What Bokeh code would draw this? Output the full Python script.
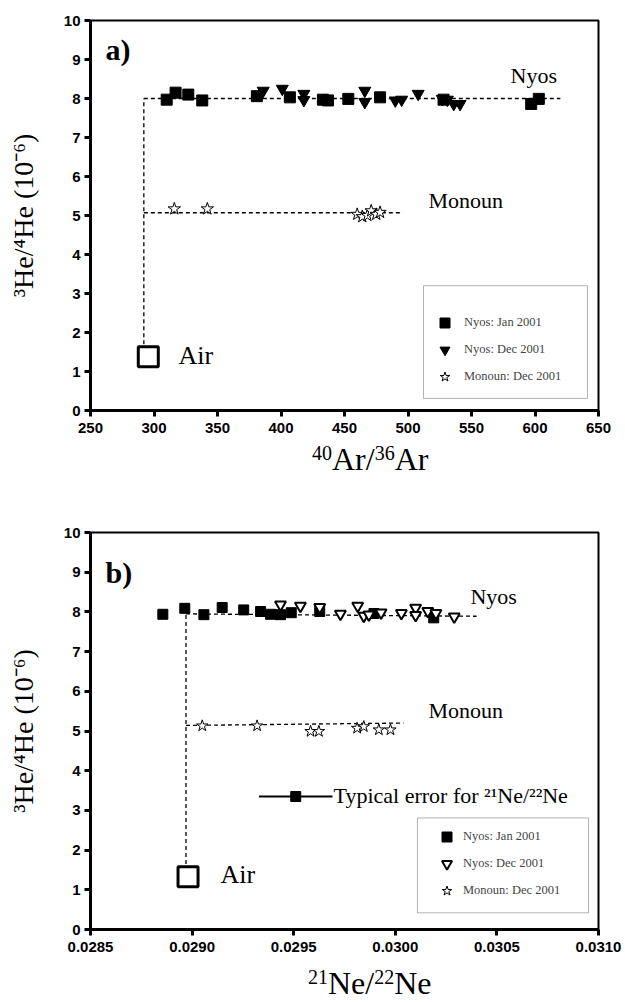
from bokeh.plotting import figure
from bokeh.layouts import column
from bokeh.models import (Range1d, FixedTicker, PrintfTickFormatter, Label,
                          Legend, LegendItem, BoxAnnotation, Div)
from bokeh.embed import file_html
from bokeh.resources import INLINE

# ---------------- panel a: 3He/4He vs 40Ar/36Ar ----------------
a_nyos_jan_x = [310, 317, 327, 338, 381, 407, 433, 437, 453, 478, 528, 597, 603]
a_nyos_jan_y = [7.97, 8.15, 8.10, 7.95, 8.06, 8.03, 7.97, 7.95, 7.99, 8.03, 7.97, 7.86, 7.99]

a_nyos_dec_x = [386, 401, 418, 418, 466, 466, 490, 495, 508, 527, 531, 536, 541]
a_nyos_dec_y = [8.20, 8.25, 8.12, 7.96, 8.20, 7.91, 7.95, 7.97, 8.12, 7.99, 7.97, 7.86, 7.86]

a_monoun_x = [316, 342, 460, 464, 468, 471, 475, 478]
a_monoun_y = [5.17, 5.17, 5.03, 4.97, 5.00, 5.12, 5.03, 5.08]

a_air = (295.5, 1.38)

a_nyos_trend_x = [292, 620]
a_nyos_trend_y = [8.0, 8.0]
a_monoun_trend_x = [292, 496]
a_monoun_trend_y = [5.07, 5.07]
a_air_link_x = [292, 292]
a_air_link_y = [1.70, 8.0]

# ---------------- panel b: 3He/4He vs 21Ne/22Ne ----------------
b_nyos_jan_x = [0.028856, 0.028964, 0.029058, 0.029148, 0.029254, 0.029337,
                0.029386, 0.029435, 0.029488, 0.029628, 0.029895, 0.030189]
b_nyos_jan_y = [7.94, 8.09, 7.93, 8.11, 8.05, 8.01, 7.94, 7.93, 7.98, 8.01, 7.96, 7.85]

b_nyos_dec_x = [0.029435, 0.029533, 0.029628, 0.029730, 0.029815, 0.029845,
                0.029870, 0.029930, 0.030030, 0.030100, 0.030100, 0.030160,
                0.030200, 0.030290]
b_nyos_dec_y = [8.18, 8.15, 8.12, 7.95, 8.15, 7.90, 7.93, 7.98, 7.97, 8.10, 7.92,
                8.02, 7.97, 7.88]

b_monoun_x = [0.029050, 0.029320, 0.029583, 0.029624, 0.029812, 0.029845,
              0.029919, 0.029976]
b_monoun_y = [5.13, 5.13, 4.99, 4.99, 5.07, 5.11, 5.03, 5.03]

b_air = (0.02898, 1.33)

b_nyos_trend_x = [0.02897, 0.03040]
b_nyos_trend_y = [7.95, 7.89]
b_monoun_trend_x = [0.02897, 0.03004]
b_monoun_trend_y = [5.14, 5.20]
b_air_link_x = [0.02897, 0.02897]
b_air_link_y = [1.65, 7.95]

b_error_x = 0.02951
b_error_y = 3.35
b_error_half = 0.000181

y_ticks = list(range(0, 11))
a_x_ticks = [250, 300, 350, 400, 450, 500, 550, 600, 650]
b_x_ticks = [0.0285, 0.0290, 0.0295, 0.0300, 0.0305, 0.0310]

SERIF = "Liberation Serif"
SANS = "Liberation Sans"


def base_figure(height, top, bottom, x_range, x_ticks):
    p = figure(width=625, height=height, frame_width=508,
               frame_height=height - top - bottom,
               min_border_left=90, min_border_right=27,
               min_border_top=top, min_border_bottom=bottom,
               x_range=x_range, y_range=Range1d(0, 10),
               output_backend="svg", toolbar_location=None)
    p.background_fill_color = "white"
    p.border_fill_color = "white"
    p.grid.visible = False
    p.outline_line_color = "black"
    p.outline_line_width = 2
    for ax in (p.xaxis[0], p.yaxis[0]):
        ax.axis_line_width = 3
        ax.major_tick_line_width = 3
        ax.major_tick_out = 6
        ax.major_tick_in = 0
        ax.minor_tick_line_color = None
        ax.major_label_text_font = SANS
        ax.major_label_text_font_style = "bold"
        ax.major_label_text_font_size = "15px"
        ax.major_label_text_color = "black"
        ax.axis_label_text_font = SERIF
        ax.axis_label_text_font_style = "normal"
        ax.axis_label_text_color = "black"
        ax.axis_label_text_font_size = "28px"
    p.xaxis.ticker = FixedTicker(ticks=x_ticks)
    p.yaxis.ticker = FixedTicker(ticks=y_ticks)
    p.yaxis.major_label_standoff = 4
    p.xaxis.major_label_standoff = 6
    p.yaxis.axis_label = "³He/⁴He (10⁻⁶)"
    p.yaxis.axis_label_standoff = 22
    return p


def note(p, x, y, text, size="22px", style="normal"):
    p.add_layout(Label(x=x, y=y, text=text, text_font=SERIF,
                       text_font_size=size, text_font_style=style,
                       text_baseline="alphabetic", text_color="black"))


def legend_box(p, left, right, bottom, top):
    p.add_layout(BoxAnnotation(left=left, right=right, bottom=bottom, top=top,
                               fill_alpha=0, line_color="black", line_width=1))


def add_legend(p, items, loc, standoff):
    leg = Legend(items=items, location=loc, padding=0, spacing=2,
                 glyph_width=25, glyph_height=25, label_standoff=standoff,
                 label_text_font=SERIF, label_text_font_size="12.5px",
                 border_line_alpha=0, background_fill_alpha=0,
                 label_height=25)
    p.add_layout(leg)


def sup(t):
    return ('<span style="font-size:20px;position:relative;top:-10px">'
            f'{t}</span>')


def x_title(html, indent, height):
    # axis title with raised mass numbers, set as HTML under each panel
    return Div(text=(f'<div style="margin-left:{indent}px;white-space:nowrap;'
                     "font-family:'Liberation Serif';font-size:32px;"
                     'line-height:30px;color:black">' + html + '</div>'),
               width=625, height=height, margin=(0, 0, 0, 0))


dash = dict(line_color="black", line_dash="4 3", line_width=1.3)

# ---------------- panel a ----------------
pa = base_figure(444, 20, 34, Range1d(250, 650), a_x_ticks)

pa.line(a_nyos_trend_x, a_nyos_trend_y, **dash)
pa.line(a_monoun_trend_x, a_monoun_trend_y, **dash)
pa.line(a_air_link_x, a_air_link_y, **dash)

ra1 = pa.scatter(a_nyos_jan_x, a_nyos_jan_y, marker="square", size=11,
                 fill_color="black", line_color="black")
ra2 = pa.scatter(a_nyos_dec_x, a_nyos_dec_y, marker="inverted_triangle", size=12,
                 fill_color="black", line_color="black")
ra3 = pa.scatter(a_monoun_x, a_monoun_y, marker="star", size=13,
                 fill_color="white", line_color="black", line_width=1)
pa.scatter([a_air[0]], [a_air[1]], marker="square", size=20,
           fill_color="white", line_color="black", line_width=3)

note(pa, 261.8, 9.26, "a)", size="30px", style="bold")
note(pa, 580.7, 8.58, "Nyos")
note(pa, 516.1, 5.39, "Monoun")
note(pa, 319.3, 1.41, "Air", size="26px")

legend_box(pa, 512.2, 641.3, 0.31, 3.2)
add_legend(pa, [LegendItem(label="Nyos: Jan 2001", renderers=[ra1]),
                LegendItem(label="Nyos: Dec 2001", renderers=[ra2]),
                LegendItem(label="Monoun: Dec 2001", renderers=[ra3])],
           (342, 21), 7)

title_a = x_title(sup("40") + "Ar/" + sup("36") + "Ar", 312, 46)

# ---------------- panel b ----------------
pb = base_figure(478, 42, 39, Range1d(0.0285, 0.0310), b_x_ticks)
pb.xaxis.formatter = PrintfTickFormatter(format="%.4f")

pb.line(b_nyos_trend_x, b_nyos_trend_y, **dash)
pb.line(b_monoun_trend_x, b_monoun_trend_y, **dash)
pb.line(b_air_link_x, b_air_link_y, **dash)

rb1 = pb.scatter(b_nyos_jan_x, b_nyos_jan_y, marker="square", size=10,
                 fill_color="black", line_color="black")
rb2 = pb.scatter(b_nyos_dec_x, b_nyos_dec_y, marker="inverted_triangle", size=11,
                 fill_color="white", line_color="black", line_width=2)
rb3 = pb.scatter(b_monoun_x, b_monoun_y, marker="star", size=12,
                 fill_color="white", line_color="black", line_width=1)
pb.scatter([b_air[0]], [b_air[1]], marker="square", size=20,
           fill_color="white", line_color="black", line_width=3)

# typical analytical uncertainty on 21Ne/22Ne
pb.segment(x0=[b_error_x - b_error_half], y0=[b_error_y],
           x1=[b_error_x + b_error_half], y1=[b_error_y],
           line_color="black", line_width=2)
pb.scatter([b_error_x], [b_error_y], marker="square", size=10,
           fill_color="black", line_color="black")

note(pb, 0.028574, 8.98, "b)", size="30px", style="bold")
note(pb, 0.03037, 8.4, "Nyos")
note(pb, 0.030163, 5.51, "Monoun")
note(pb, 0.02914, 1.38, "Air", size="26px")
note(pb, 0.029696, 3.37, "Typical error for ²¹Ne/²²Ne")

legend_box(pb, 0.030109, 0.030951, 0.42, 2.81)
add_legend(pb, [LegendItem(label="Nyos: Jan 2001", renderers=[rb1]),
                LegendItem(label="Nyos: Dec 2001", renderers=[rb2]),
                LegendItem(label="Monoun: Dec 2001", renderers=[rb3])],
           (344, 26), 4)

title_b = x_title(sup("21") + "Ne/" + sup("22") + "Ne", 308, 34)

layout = column(pa, title_a, pb, title_b, spacing=0)
open("out.html", "w").write(file_html(layout, INLINE))
